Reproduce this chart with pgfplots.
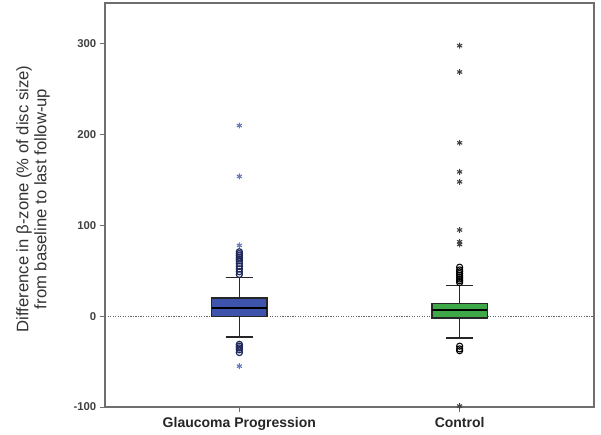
\documentclass[border=0pt]{standalone}
\usepackage{fontspec}
\setmainfont{Liberation Sans}
\usepackage{pgfplots}
\pgfplotsset{compat=1.18}
\usepgfplotslibrary{statistics}
\definecolor{gblue}{RGB}{62,84,172}
\definecolor{gblueedge}{RGB}{30,40,90}
\definecolor{cgreen}{RGB}{62,168,72}
\definecolor{axgray}{RGB}{110,110,110}
\begin{document}
\begin{tikzpicture}
\begin{axis}[
  scale only axis,
  width=366.75pt, height=303pt,
  xmin=0.39, xmax=2.61,
  ymin=-100, ymax=345,
  xtick={1,2},
  xticklabels={Glaucoma Progression, Control},
  ytick={-100,0,100,200,300},
  tick align=outside,
  tick pos=left,
  major tick length=4pt,
  axis line style={axgray, line width=0.9pt},
  every tick/.style={axgray, line width=0.6pt},
  /pgf/number format/assume math mode=true,
  yticklabel style={font=\fontsize{8.5}{10}\selectfont\bfseries, text=black!75, xshift=1pt},
  xticklabel style={font=\fontsize{10.5}{12}\selectfont\bfseries, text=black!85},
  ylabel={Difference in β-zone (\% of disc size)\\from baseline to last follow-up},
  ylabel style={at={(axis description cs:-0.147,0.515)}, anchor=center, align=center, font=\fontsize{12.5}{13.5}\selectfont, text=black!80},
  clip=false,
  boxplot/draw direction=y,
  boxplot/box extend=0.25,
  boxplot/whisker extend=0.125,
]
\addplot[densely dotted, black!60, line width=0.9pt] coordinates {(0.39,0) (2.61,0)};

\addplot[boxplot prepared={draw position=1, lower whisker=-23, lower quartile=0, median=9, upper quartile=20, upper whisker=43},
  draw=black!85, line width=1pt, fill=gblue, solid, mark=none,
  boxplot/every whisker/.style={line width=1pt},
  boxplot/every median/.style={line width=2pt, draw=black}] coordinates {};
\addplot[boxplot prepared={draw position=2, lower whisker=-24, lower quartile=-2, median=7, upper quartile=14, upper whisker=34},
  draw=black!85, line width=1pt, fill=cgreen, solid, mark=none,
  boxplot/every whisker/.style={line width=1pt},
  boxplot/every median/.style={line width=2pt, draw=black}] coordinates {};

% outlier circles
\addplot[only marks, mark=o, mark size=2.3pt, draw=gblueedge, line width=0.9pt] coordinates {
(1,46)(1,49)(1,52)(1,55)(1,58)(1,61)(1,63)(1,65)(1,67)(1,69)(1,71)
(1,-31)(1,-33)(1,-35)(1,-37)(1,-40)};
\addplot[only marks, mark=o, mark size=2.3pt, draw=black, line width=0.8pt] coordinates {
(2,37)(2,39)(2,41)(2,43)(2,45)(2,47)(2,49)(2,51)(2,54)
(2,-33)(2,-36)(2,-38)};

% extreme stars
\addplot[only marks, mark=asterisk, mark size=2.2pt, draw=gblue!80, line width=0.8pt] coordinates {
(1,210)(1,154)(1,78)(1,-55)};
\addplot[only marks, mark=asterisk, mark size=2.2pt, draw=black!75, line width=0.8pt] coordinates {
(2,298)(2,269)(2,191)(2,159)(2,148)(2,95)(2,82)(2,79)(2,-99)};
\end{axis}
\pgfresetboundingbox
\useasboundingbox ([xshift=-78.75pt,yshift=-21pt]current axis.south west) rectangle ([xshift=5.25pt,yshift=2.25pt]current axis.north east);
\end{tikzpicture}
\end{document}
